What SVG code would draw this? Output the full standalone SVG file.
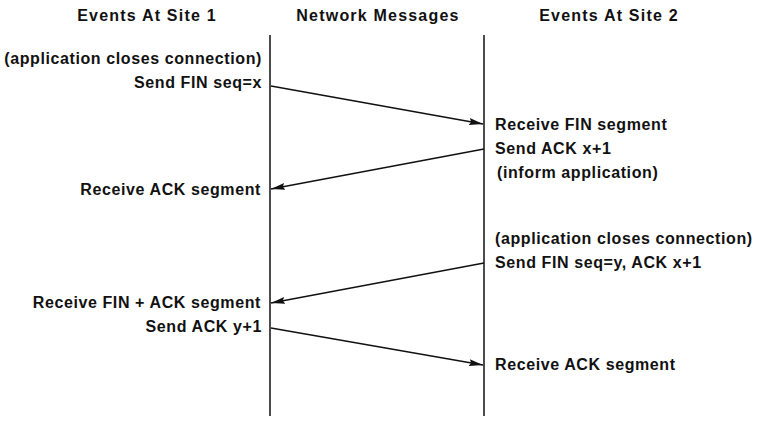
<svg xmlns="http://www.w3.org/2000/svg" width="757" height="426" viewBox="0 0 757 426">
<style>
text{font-family:"Liberation Sans",Arial,sans-serif;font-weight:bold;fill:#111}
.h{font-size:16px;letter-spacing:1.2px;text-anchor:middle}
.l{font-size:16px;letter-spacing:0.6px}
.r{text-anchor:end}
.life{stroke:#111;stroke-width:1.5;fill:none}
.msg{stroke:#111;stroke-width:1.4;fill:none;marker-end:url(#ah)}
</style>
<defs>
<marker id="ah" markerWidth="15" markerHeight="9" refX="14" refY="4.5" orient="auto" markerUnits="userSpaceOnUse">
<path d="M0,1 L14,4.5 L0,8 L2,4.5 Z" fill="#111"/>
</marker>
</defs>
<g id="headers">
<text class="h" x="147" y="21">Events At Site 1</text>
<text class="h" x="378" y="21">Network Messages</text>
<text class="h" x="609" y="21">Events At Site 2</text>
</g>
<g id="lifelines">
<line class="life" x1="270" y1="35" x2="270" y2="416"/>
<line class="life" x1="484" y1="35" x2="484" y2="416"/>
</g>
<g id="connectors">
<line class="msg" x1="271" y1="86" x2="483" y2="124"/>
<line class="msg" x1="484" y1="149" x2="271" y2="189"/>
<line class="msg" x1="484" y1="263" x2="271" y2="303"/>
<line class="msg" x1="271" y1="328" x2="483" y2="365"/>
</g>
<g id="site1">
<text class="l r" x="262" y="64">(application closes connection)</text>
<text class="l r" x="262" y="88">Send FIN seq=x</text>
<text class="l r" x="261" y="195">Receive ACK segment</text>
<text class="l r" x="261" y="308">Receive FIN + ACK segment</text>
<text class="l r" x="262" y="332">Send ACK y+1</text>
</g>
<g id="site2">
<text class="l" x="495" y="130">Receive FIN segment</text>
<text class="l" x="495" y="154">Send ACK x+1</text>
<text class="l" x="497" y="178">(inform application)</text>
<text class="l" x="495" y="244">(application closes connection)</text>
<text class="l" x="495" y="268">Send FIN seq=y, ACK x+1</text>
<text class="l" x="495" y="370">Receive ACK segment</text>
</g>
</svg>
